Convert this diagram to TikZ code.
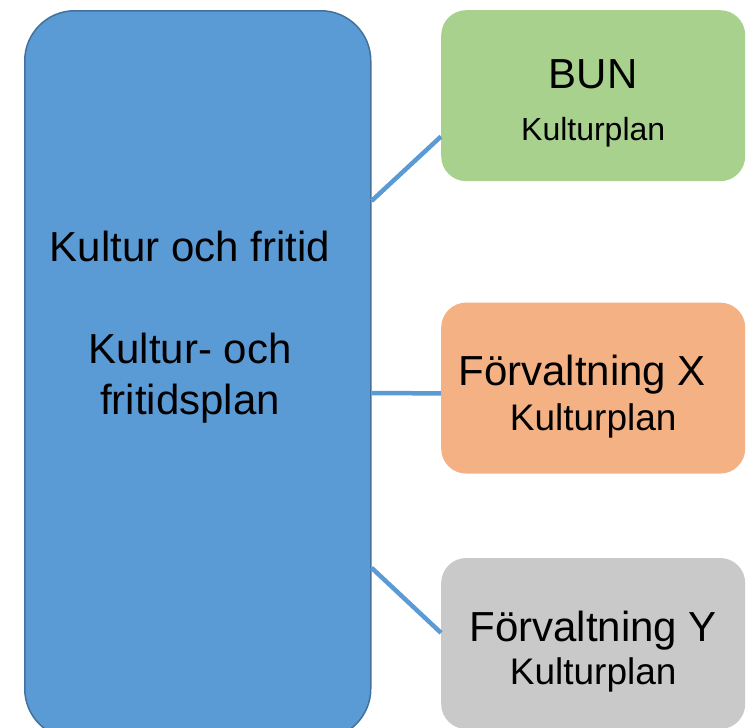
\documentclass[tikz,border=0pt]{standalone}
\usepackage{fontspec}
\setmainfont{Liberation Sans}
\usetikzlibrary{positioning}
\definecolor{mainblue}{HTML}{5B9BD5}
\definecolor{mainedge}{HTML}{41719C}
\definecolor{bungreen}{HTML}{A9D18E}
\definecolor{xorange}{HTML}{F4B183}
\definecolor{ygray}{HTML}{C9C9C9}
\tikzset{
  planbox/.style = {rectangle, rounded corners=25pt, minimum width=304pt,
    minimum height=171pt, align=center, inner sep=0pt},
  link/.style = {line width=4.5pt, mainblue},
}

\begin{document}
\begin{tikzpicture}[x=1pt,y=-1pt]
  \useasboundingbox (0,0) rectangle (753,728);
  \clip (0,0) rectangle (753,728);
  \node[draw=mainedge, line width=1.5pt, fill=mainblue, rounded corners=50pt,
    minimum width=346pt, minimum height=728pt, anchor=north west] (main) at (24,10) {};
  \node[font=\fontsize{42}{51}\selectfont, align=center] (maintext) at (190,327)
    {Kultur och fritid\\[51pt]Kultur- och\\fritidsplan};
  \node[planbox, fill=bungreen, anchor=north west] (bun) at (441,10)
    {\rule{0pt}{44pt}{\fontsize{42}{46}\selectfont BUN}\\[28pt]{\fontsize{32}{40}\selectfont Kulturplan}};
  \node[planbox, fill=xorange, below=121pt of bun] (fx)
    {\rule{0pt}{47pt}{\fontsize{42}{46}\selectfont Förvaltning X\kern22pt}\\[9pt]{\fontsize{37}{46}\selectfont Kulturplan}};
  \node[planbox, fill=ygray, below=84pt of fx] (fy)
    {\rule{0pt}{47pt}{\fontsize{42}{46}\selectfont Förvaltning Y}\\[7pt]{\fontsize{37}{46}\selectfont Kulturplan}};
  % links from the plan to each box
  \draw[link] (main.45.5) -- (bun.195);
  \draw[link] (main.-6.3) -- (fx.182);
  \draw[link] (main.-48.6) -- (fy.176);
\end{tikzpicture}
\end{document}
